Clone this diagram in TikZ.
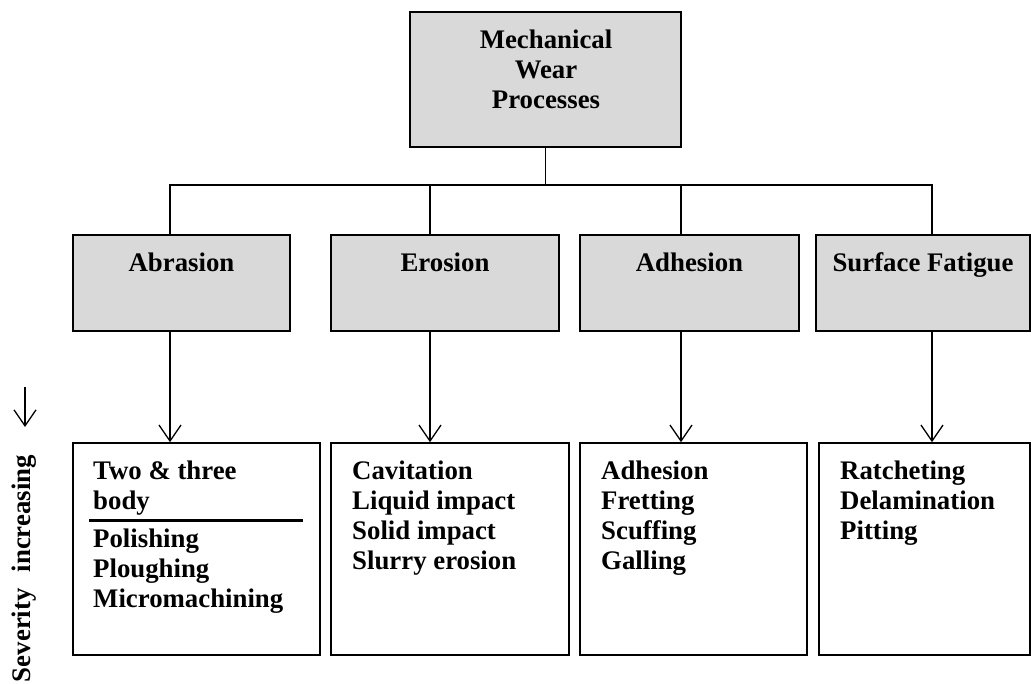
\documentclass[tikz,border=0pt]{standalone}
\usepackage{fontspec}
\setmainfont{Liberation Serif}
\usetikzlibrary{arrows.meta}
\definecolor{boxgray}{HTML}{D9D9D9}
\begin{document}
\begin{tikzpicture}[x=1pt,y=-1pt,
  every node/.style={font=\bfseries\fontsize{26.8}{30}\selectfont},
  graybox/.style={draw=black, line width=1.6pt, fill=boxgray, rectangle, inner sep=0pt},
  whitebox/.style={draw=black, line width=1.6pt, fill=white, rectangle, inner sep=0pt},
  txt/.style={inner sep=0pt, align=left, anchor=north west},
  ctxt/.style={inner sep=0pt, align=center, anchor=base},
  conn/.style={line width=1.3pt},
  arr/.style={line width=1.3pt, -{Straight Barb[length=16pt,width=22pt]}}
]
\useasboundingbox (0,0) rectangle (1031,684);

% top box
\node[graybox, minimum width=271pt, minimum height=135pt] (top) at (545.5,79.5) {};
\node[inner sep=0pt, align=center, anchor=north] (toptxt) at (546,30) {Mechanical\\Wear\\Processes};

% second row
\node[graybox, minimum width=217pt, minimum height=96pt] (abr) at (181.5,283) {};
\node[graybox, minimum width=228pt, minimum height=96pt] (ero) at (445,283) {};
\node[graybox, minimum width=219pt, minimum height=96pt] (adh) at (689.5,283) {};
\node[graybox, minimum width=214pt, minimum height=96pt] (sur) at (923,283) {};
\node[ctxt] (abrt) at (181.5,272) {Abrasion};
\node[ctxt] (erot) at (445,272) {Erosion};
\node[ctxt] (adht) at (689.5,272) {Adhesion};
\node[ctxt] (surt) at (923,272) {Surface Fatigue};

% third row
\node[whitebox, minimum width=247pt, minimum height=212pt] (abrL) at (196.5,549) {};
\node[whitebox, minimum width=238pt, minimum height=212pt] (eroL) at (450,549) {};
\node[whitebox, minimum width=227pt, minimum height=212pt] (adhL) at (693.5,549) {};
\node[whitebox, minimum width=211pt, minimum height=212pt] (surL) at (924.5,549) {};

\node[txt] (abrL1) at (93,461) {Two \& three\\body};
\coordinate (ruleL) at (89,520);
\coordinate (ruleR) at (303,520);
\draw[line width=3pt] (ruleL) -- (ruleR);
\node[txt] (abrL2) at (93,529) {Polishing\\Ploughing\\Micromachining};
\node[txt] (eroLt) at (352,461) {Cavitation\\Liquid impact\\Solid impact\\Slurry erosion};
\node[txt] (adhLt) at (601,461) {Adhesion\\Fretting\\Scuffing\\Galling};
\node[txt] (surLt) at (840,461) {Ratcheting\\Delamination\\Pitting};

% bus connectors
\coordinate (busA) at (170,185);
\coordinate (busB) at (430,185);
\coordinate (busC) at (681,185);
\coordinate (busD) at (932,185);
\draw[conn] (top.south) -- (top.south |- busA);
\draw[conn] (busA |- abr.north) -- (busA) -- (busD) -- (busD |- sur.north);
\draw[conn] (busB) -- (busB |- ero.north);
\draw[conn] (busC) -- (busC |- adh.north);

% arrows down
\draw[arr] (busA |- abr.south) -- (busA |- abrL.north);
\draw[arr] (busB |- ero.south) -- (busB |- eroL.north);
\draw[arr] (busC |- adh.south) -- (busC |- adhL.north);
\draw[arr] (busD |- sur.south) -- (busD |- surL.north);

% severity
\coordinate (sevtop) at (25,387);
\coordinate (sevtip) at (25,427);
\draw[arr] (sevtop) -- (sevtip);
\node[inner sep=0pt, rotate=90, anchor=east] (sev) at (24,455) {Severity\hspace{16pt}increasing};
\end{tikzpicture}
\end{document}
